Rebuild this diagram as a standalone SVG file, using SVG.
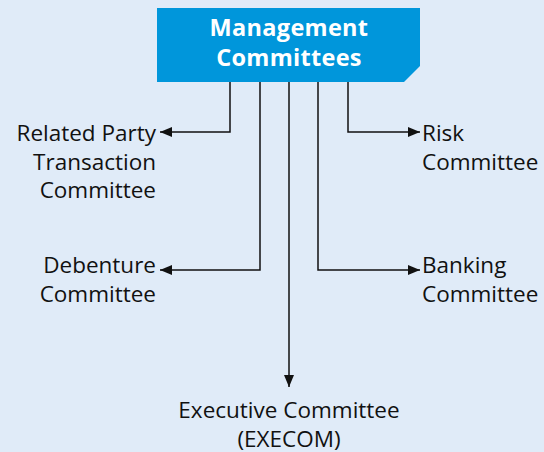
<svg xmlns="http://www.w3.org/2000/svg" width="544" height="452" viewBox="0 0 544 452">
<defs>
<style>
.t{font-family:"Open Sans","Liberation Sans",sans-serif;font-size:22.5px;fill:#111}
.h{font-family:"Open Sans","Liberation Sans",sans-serif;font-size:23.5px;font-weight:bold;fill:#fff;letter-spacing:0.3px}
.c{fill:none;stroke:#111;stroke-width:1.5}
</style>
<marker id="a" viewBox="0 0 12 10" refX="12" refY="5" markerWidth="12" markerHeight="10" markerUnits="userSpaceOnUse" orient="auto"><path d="M0,0 L12,5 L0,10 z" fill="#111"/></marker>
</defs>
<rect width="544" height="452" fill="#e0ebf8"/>
<g id="connectors">
<path class="c" d="M230,82 V132 H160" marker-end="url(#a)"/>
<path class="c" d="M260,82 V270 H160" marker-end="url(#a)"/>
<path class="c" d="M289,82 V387" marker-end="url(#a)"/>
<path class="c" d="M318,82 V270 H420" marker-end="url(#a)"/>
<path class="c" d="M348,82 V132 H420" marker-end="url(#a)"/>
</g>
<g id="mgmt">
<path d="M157,8 H420 V66 L404,82 H157 Z" fill="#0096db"/>
<text class="h" x="289" y="35.5" text-anchor="middle">Management</text>
<text class="h" x="289" y="65.5" text-anchor="middle">Committees</text>
</g>
<g id="rpt">
<text class="t" x="156" y="141" text-anchor="end">Related Party</text>
<text class="t" x="156" y="169.5" text-anchor="end">Transaction</text>
<text class="t" x="156" y="198" text-anchor="end">Committee</text>
</g>
<g id="risk">
<text class="t" x="422" y="141">Risk</text>
<text class="t" x="422" y="169.5">Committee</text>
</g>
<g id="deb">
<text class="t" x="156" y="273" text-anchor="end">Debenture</text>
<text class="t" x="156" y="301.5" text-anchor="end">Committee</text>
</g>
<g id="bank">
<text class="t" x="422" y="273">Banking</text>
<text class="t" x="422" y="301.5">Committee</text>
</g>
<g id="exec">
<text class="t" x="289" y="418" text-anchor="middle">Executive Committee</text>
<text class="t" x="289" y="446.5" text-anchor="middle">(EXECOM)</text>
</g>
</svg>
